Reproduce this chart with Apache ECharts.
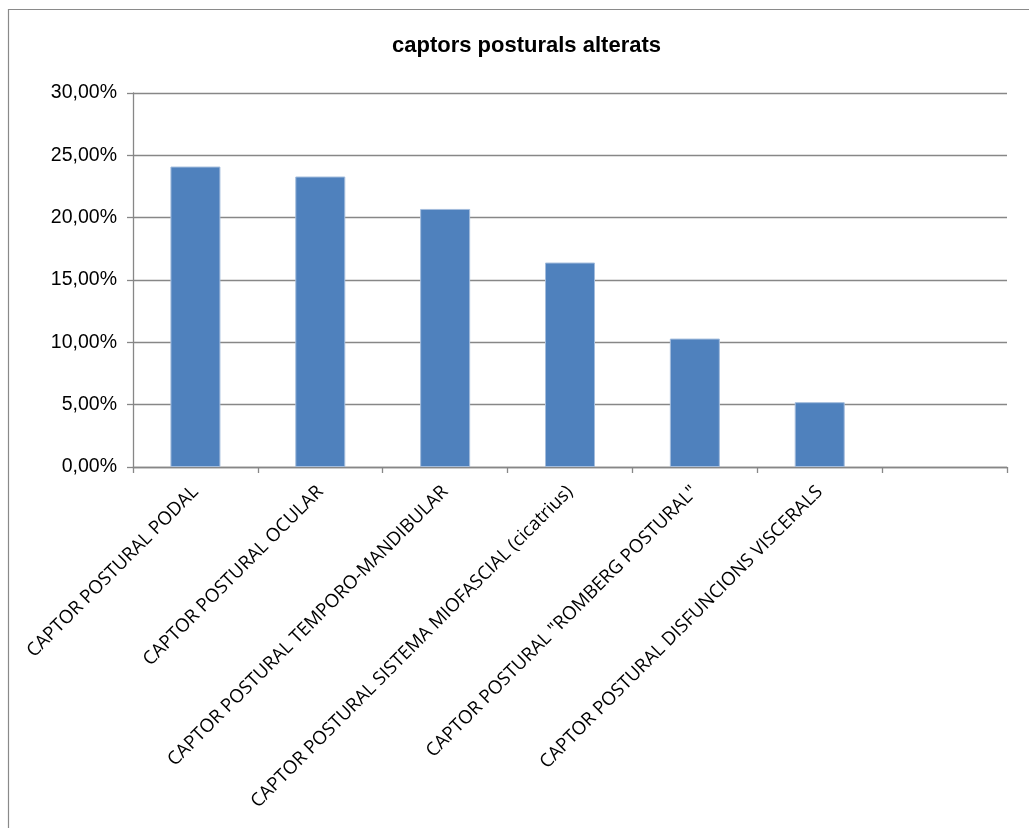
<!DOCTYPE html>
<html>
<head>
<meta charset="utf-8">
<title>captors posturals alterats</title>
<script src="https://cdn.jsdelivr.net/npm/echarts@6/dist/echarts.min.js"></script>
<style>
  html, body { margin: 0; padding: 0; background: #ffffff; }
  #chart { width: 1029px; height: 828px; }
</style>
</head>
<body>
<div id="chart"></div>
<script>
// Categories (the last slot is left empty, as in the source worksheet)
const categories = [
  'CAPTOR POSTURAL PODAL',
  'CAPTOR POSTURAL OCULAR',
  'CAPTOR POSTURAL TEMPORO-MANDIBULAR',
  'CAPTOR POSTURAL SISTEMA MIOFASCIAL (cicatrius)',
  'CAPTOR POSTURAL "ROMBERG POSTURAL"',
  'CAPTOR POSTURAL DISFUNCIONS VISCERALS',
  ''
];

// Share of altered postural captors, in percent
const percentages = [24.1, 23.3, 20.7, 16.4, 10.3, 5.2, null];

// Value axis range and step (percent)
const axisMin = 0;
const axisMax = 30;
const axisStep = 5;

const titleText = 'captors posturals alterats';

const axisGray = '#878787';

const chart = echarts.init(document.getElementById('chart'), null, { renderer: 'canvas' });

chart.setOption({
  backgroundColor: '#ffffff',
  animation: false,
  title: {
    text: titleText,
    left: 387,
    top: 30,
    textStyle: {
      fontFamily: 'Liberation Sans, Arial, sans-serif',
      fontWeight: 'bold',
      fontSize: 22,
      color: '#000000'
    }
  },
  graphic: [
    {
      type: 'rect',
      shape: { x: 8.5, y: 9.5, width: 1200, height: 1000 },
      style: { fill: 'none', stroke: '#8a8a8a', lineWidth: 1.2 },
      silent: true,
      z: 0
    }
  ],
  grid: {
    left: 133,
    right: 22,
    top: 93,
    bottom: 361,
    containLabel: false
  },
  xAxis: {
    type: 'category',
    data: categories,
    boundaryGap: true,
    axisLine: { show: true, lineStyle: { color: axisGray, width: 1.3 } },
    axisTick: { show: true, interval: 0, length: 6, alignWithLabel: false, lineStyle: { color: axisGray, width: 1.3 } },
    axisLabel: {
      interval: 0,
      rotate: 45,
      margin: 22,
      fontFamily: 'Open Sans, sans-serif',
      fontSize: 18.6,
      color: '#000000'
    },
    splitLine: { show: false }
  },
  yAxis: {
    type: 'value',
    min: axisMin,
    max: axisMax,
    interval: axisStep,
    axisLine: { show: true, lineStyle: { color: axisGray, width: 1.3 } },
    axisTick: { show: true, length: 6, lineStyle: { color: axisGray, width: 1.3 } },
    axisLabel: {
      margin: 16,
      fontFamily: 'Liberation Sans, Arial, sans-serif',
      fontSize: 19.5,
      color: '#000000',
      formatter: function (v) { return v.toFixed(2).replace('.', ',') + '%'; }
    },
    splitLine: { show: true, lineStyle: { color: axisGray, width: 1.3 } }
  },
  series: [
    {
      type: 'bar',
      data: percentages,
      barWidth: 50,
      itemStyle: {
        color: '#4f81bd',
        borderColor: '#a3bcdc',
        borderWidth: 1
      }
    }
  ]
});
</script>
</body>
</html>
